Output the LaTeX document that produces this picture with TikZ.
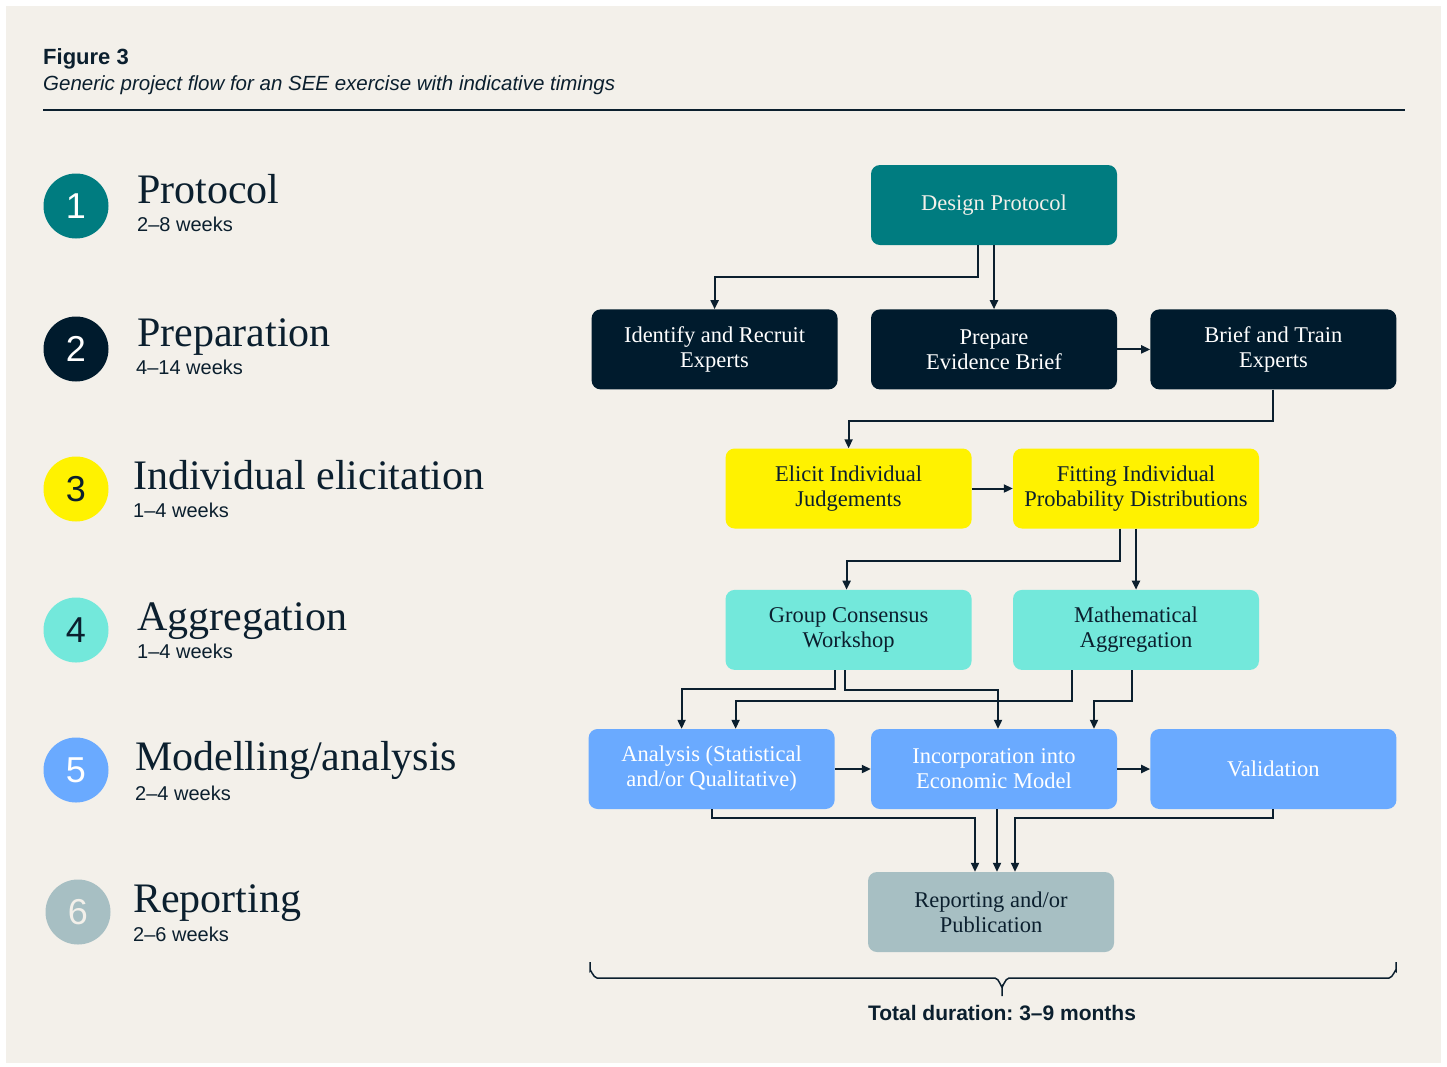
\documentclass[tikz,border=0pt]{standalone}
\usepackage{fontspec}
\setmainfont{Liberation Sans}
\newfontfamily\seriffont{Liberation Serif}
\usetikzlibrary{positioning,arrows.meta}
\frenchspacing

\definecolor{paper}{HTML}{F3F0EA}
\definecolor{ink}{HTML}{0B1F2E}
\definecolor{navy}{HTML}{001B2D}
\definecolor{seeteal}{HTML}{007C80}
\definecolor{seeyellow}{HTML}{FFF200}
\definecolor{seeaqua}{HTML}{73E8DB}
\definecolor{seeblue}{HTML}{6AAAFF}
\definecolor{seegrey}{HTML}{A7BFC3}

\begin{document}
\begin{tikzpicture}[
		x=1pt,y=-1pt,
		node distance=61pt and 33pt,
		box/.style={rounded corners=9pt,minimum width=246pt,minimum height=80pt,inner sep=2pt,align=center,font=\seriffont\fontsize{22.5}{25}\selectfont},
		stepnum/.style={circle,minimum size=65pt,inner sep=0pt,font=\fontsize{36}{36}\selectfont},
		stagename/.style={anchor=base west,inner sep=0pt,text=ink,font=\seriffont\fontsize{42}{42}\selectfont},
		stagetime/.style={anchor=base west,inner sep=0pt,text=ink,font=\fontsize{20}{20}\selectfont},
		flow/.style={-{Triangle[length=9pt,width=8pt]},draw=ink,line width=2pt}
		]
		\useasboundingbox (0,0) rectangle (1447,1066);
		\fill[white] (0,0) rectangle (1447,1066);
		\fill[paper] (6,6) rectangle (1441,1063);
		% header
		\node[anchor=base west,inner sep=0pt,text=ink,font=\bfseries\fontsize{22}{22}\selectfont] (figno) at (43,64) {Figure 3};
		\node[anchor=base west,inner sep=0pt,text=ink,font=\itshape\fontsize{20.5}{21}\selectfont] (figtitle) at (43,90) {Generic project flow for an SEE exercise with indicative timings};
		\draw[ink,line width=1.5pt] (43,110) -- (1405,110);
		% stages
		\node[stepnum,fill=seeteal,text=white] (s1) at (76,206) {1};
		\node[stagename] (s1name) at (137,203) {Protocol};
		\node[stagetime] (s1time) at (137,231) {2–8 weeks};
		\node[stepnum,fill=navy,text=white] (s2) at (76,349) {2};
		\node[stagename] (s2name) at (137,346) {Preparation};
		\node[stagetime] (s2time) at (136,374) {4–14 weeks};
		\node[stepnum,fill=seeyellow,text=ink] (s3) at (76,489) {3};
		\node[stagename] (s3name) at (133,489) {Individual elicitation};
		\node[stagetime] (s3time) at (133,517) {1–4 weeks};
		\node[stepnum,fill=seeaqua,text=ink] (s4) at (76,630) {4};
		\node[stagename] (s4name) at (137,630) {Aggregation};
		\node[stagetime] (s4time) at (137,658) {1–4 weeks};
		\node[stepnum,fill=seeblue,text=white] (s5) at (76,770) {5};
		\node[stagename] (s5name) at (135,770) {Modelling/analysis};
		\node[stagetime] (s5time) at (135,800) {2–4 weeks};
		\node[stepnum,fill=seegrey,text=paper] (s6) at (78,912) {6};
		\node[stagename] (s6name) at (133,912) {Reporting};
		\node[stagetime] (s6time) at (133,941) {2–6 weeks};
		% flow
		\node[box,fill=seeteal,text=paper] (design) at (994,205) {Design Protocol};
		\node[box,fill=navy,text=white,below=64pt of design] (prepare) {Prepare\\Evidence Brief};
		\node[box,fill=navy,text=white,left=of prepare] (recruit) {Identify and Recruit\\Experts};
		\node[box,fill=navy,text=white,right=of prepare] (train) {Brief and Train\\Experts};
		\node[box,fill=seeyellow,text=ink] (fitting) at (1136,488.5) {Fitting Individual\\Probability Distributions};
		\node[box,fill=seeyellow,text=ink,left=41pt of fitting] (elicit) {Elicit Individual\\Judgements};
		\node[box,fill=seeaqua,text=ink,below=of elicit] (consensus) {Group Consensus\\Workshop};
		\node[box,fill=seeaqua,text=ink,below=of fitting] (mathagg) {Mathematical\\Aggregation};
		\node[box,fill=seeblue,text=white] (econ) at (994,769) {Incorporation into\\Economic Model};
		\node[box,fill=seeblue,text=white,left=36pt of econ] (analysis) {Analysis (Statistical\\and/or Qualitative)};
		\node[box,fill=seeblue,text=white,right=of econ] (valid) {Validation};
		\node[box,fill=seegrey,text=ink] (report) at (991,912) {Reporting and/or\\Publication};
		\draw[flow] ([xshift=-16pt]design.south) -- ++(0,32) -| (recruit.north);
		\draw[flow] (design.south) -- (prepare.north);
		\draw[flow] (prepare) -- (train);
		\draw[flow] (train.south) -- ++(0,31) -| (elicit.north);
		\draw[flow] (elicit) -- (fitting);
		\draw[flow] ([xshift=-16pt]fitting.south) -- ++(0,32) -| ([xshift=-2pt]consensus.north);
		\draw[flow] (fitting.south) -- (mathagg.north);
		\draw[flow] ([xshift=-14pt]consensus.south) -- ++(0,19) -| ([xshift=-30pt]analysis.north);
		\draw[flow] ([xshift=-4pt]consensus.south) -- ++(0,20) -| ([xshift=4pt]econ.north);
		\draw[flow] ([xshift=-64pt]mathagg.south) -- ++(0,31) -| ([xshift=24pt]analysis.north);
		\draw[flow] ([xshift=-4pt]mathagg.south) -- ++(0,31) -| ([xshift=100pt]econ.north);
		\draw[flow] (analysis) -- (econ);
		\draw[flow] (econ) -- (valid);
		\draw[flow] (analysis.south) -- ++(0,9) -| ([xshift=-16pt]report.north);
		\draw[flow] ([xshift=3pt]econ.south) -- ([xshift=6pt]report.north);
		\draw[flow] (valid.south) -- ++(0,9) -| ([xshift=24pt]report.north);
		% total duration
		\draw[ink,line width=1.5pt] (590,962) -- (590,971) to[out=90,in=180] (597,978) -- (995,978) to[out=0,in=-90] (1002,986) -- (1002,996);
		\draw[ink,line width=1.5pt] (1002,986) to[out=-90,in=180] (1009,978) -- (1389,978) to[out=0,in=90] (1396,971) -- (1396,962);
		\node[anchor=base,inner sep=0pt,text=ink,font=\bfseries\fontsize{21}{21}\selectfont] (total) at (1002,1020) {Total duration: 3–9 months};
	\end{tikzpicture}
\end{document}
